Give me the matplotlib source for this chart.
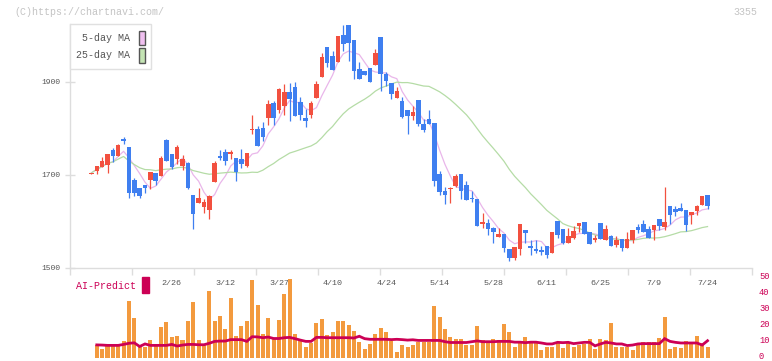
import matplotlib
matplotlib.use("Agg")
import matplotlib.pyplot as plt
from matplotlib.patches import Patch, Rectangle
from matplotlib.transforms import ScaledTranslation
import numpy as np
import pandas as pd

# daily OHLC (oldest first)
opens = [1702, 1709, 1717, 1721, 1753, 1740, 1777, 1760, 1689, 1671,
         1678, 1689, 1704, 1697, 1775, 1745, 1734, 1719, 1725, 1656,
         1639, 1630, 1624, 1684, 1740, 1749, 1745, 1736, 1734, 1719,
         1796, 1798, 1801, 1822, 1854, 1839, 1848, 1878, 1889, 1857,
         1822, 1829, 1865, 1911, 1975, 1956, 1943, 2001, 2023, 1990,
         1928, 1924, 1930, 1936, 1997, 1917, 1898, 1865, 1859, 1839,
         1826, 1861, 1809, 1820, 1811, 1702, 1665, 1669, 1676, 1702,
         1678, 1650, 1648, 1594, 1596, 1585, 1566, 1572, 1540, 1521,
         1540, 1581, 1546, 1540, 1538, 1546, 1531, 1600, 1583, 1553,
         1564, 1590, 1598, 1577, 1559, 1596, 1559, 1568, 1549, 1561,
         1542, 1559, 1587, 1594, 1583, 1581, 1605, 1587, 1633, 1626,
         1628, 1624, 1613, 1622, 1635, 1656]
highs = [1704, 1719, 1738, 1745, 1758, 1766, 1781, 1760, 1693, 1671,
         1678, 1706, 1704, 1740, 1777, 1745, 1764, 1742, 1727, 1656,
         1671, 1648, 1656, 1730, 1753, 1755, 1753, 1736, 1755, 1747,
         1829, 1805, 1814, 1861, 1859, 1887, 1896, 1898, 1900, 1867,
         1842, 1859, 1902, 1962, 1975, 1967, 1999, 2023, 2023, 1990,
         1943, 1924, 1930, 1971, 1997, 1921, 1898, 1889, 1867, 1839,
         1848, 1861, 1820, 1839, 1811, 1708, 1674, 1674, 1702, 1702,
         1686, 1665, 1648, 1618, 1605, 1587, 1585, 1572, 1540, 1544,
         1594, 1581, 1559, 1559, 1546, 1546, 1576, 1600, 1583, 1585,
         1590, 1596, 1598, 1577, 1570, 1596, 1592, 1570, 1568, 1561,
         1577, 1581, 1594, 1602, 1590, 1592, 1605, 1674, 1633, 1633,
         1639, 1624, 1620, 1635, 1654, 1656]
lows = [1702, 1702, 1717, 1704, 1727, 1740, 1766, 1650, 1654, 1650,
        1661, 1669, 1678, 1697, 1730, 1712, 1723, 1710, 1669, 1582,
        1639, 1617, 1605, 1684, 1732, 1721, 1734, 1686, 1715, 1717,
        1788, 1762, 1773, 1807, 1807, 1833, 1829, 1816, 1827, 1818,
        1803, 1822, 1865, 1911, 1932, 1926, 1943, 1967, 1945, 1906,
        1906, 1915, 1900, 1936, 1880, 1891, 1863, 1865, 1822, 1788,
        1818, 1805, 1792, 1809, 1676, 1656, 1637, 1639, 1674, 1648,
        1646, 1641, 1590, 1585, 1570, 1553, 1566, 1533, 1514, 1516,
        1527, 1553, 1527, 1531, 1527, 1520, 1531, 1564, 1551, 1553,
        1561, 1577, 1572, 1551, 1555, 1561, 1559, 1546, 1544, 1536,
        1542, 1553, 1574, 1577, 1564, 1559, 1581, 1581, 1594, 1611,
        1622, 1579, 1594, 1613, 1635, 1626]
closes = [1704, 1719, 1730, 1745, 1740, 1764, 1773, 1661, 1661, 1654,
          1671, 1706, 1686, 1736, 1730, 1717, 1760, 1734, 1671, 1616,
          1650, 1641, 1654, 1725, 1736, 1730, 1749, 1706, 1723, 1747,
          1798, 1762, 1781, 1852, 1822, 1885, 1878, 1863, 1827, 1829,
          1816, 1855, 1896, 1954, 1941, 1926, 1999, 1982, 1984, 1924,
          1906, 1915, 1900, 1962, 1917, 1902, 1874, 1880, 1824, 1826,
          1835, 1809, 1796, 1809, 1686, 1663, 1656, 1671, 1697, 1665,
          1646, 1648, 1590, 1598, 1583, 1577, 1572, 1542, 1521, 1544,
          1594, 1574, 1542, 1536, 1534, 1527, 1576, 1570, 1553, 1568,
          1579, 1596, 1572, 1551, 1564, 1561, 1583, 1546, 1559, 1542,
          1561, 1581, 1581, 1577, 1564, 1592, 1590, 1598, 1613, 1620,
          1622, 1592, 1620, 1633, 1654, 1633]

# date labels, one every 10 sessions starting at session 15
date_labels = ["2/26", "3/12", "3/27", "4/10", "4/24", "5/14",
               "5/28", "6/11", "6/25", "7/9", "7/24"]
first_label_session = 15
label_step = 10

# lower panel (right-hand 0-50 scale), from the 2nd session on
volume = [7.9, 5.4, 7.7, 8.6, 7.7, 10.6, 35.6, 24.8, 7.7, 6.9,
          11.3, 7.7, 19.2, 22.5, 12.9, 13.8, 11.3, 23.1, 34.8, 11.3,
          7.9, 41.9, 23.1, 26.3, 18.1, 37.5, 13.8, 19.8, 23.1, 48.8,
          33.1, 14.8, 25.0, 12.5, 23.8, 40.0, 49.4, 14.8, 11.3, 6.9,
          9.0, 21.9, 24.4, 14.2, 16.3, 23.1, 22.9, 20.4, 16.9, 10.0,
          5.6, 8.6, 14.8, 18.8, 16.3, 10.6, 3.8, 7.9, 6.9, 7.9,
          10.0, 10.0, 10.0, 32.3, 25.4, 17.9, 12.9, 11.5, 11.5, 7.9,
          7.9, 19.8, 11.2, 10.6, 11.5, 11.2, 21.0, 16.3, 6.9, 10.0,
          12.9, 10.0, 10.0, 4.8, 6.9, 6.9, 9.4, 6.3, 9.4, 6.9,
          7.9, 8.6, 11.5, 5.6, 11.5, 11.2, 21.9, 6.9, 6.9, 6.9,
          4.8, 9.4, 10.0, 10.0, 10.0, 12.5, 25.6, 5.6, 6.9, 6.3,
          10.6, 8.6, 13.8, 9.4, 6.9]
ai_predict = [8.0, 7.9, 7.7, 7.7, 7.7, 8.3, 9.0, 9.3, 7.0, 8.6,
              7.7, 7.7, 7.7, 7.7, 8.3, 7.3, 7.9, 8.3, 8.3, 8.1,
              8.1, 9.0, 10.2, 10.4, 10.4, 11.3, 11.3, 11.3, 10.2, 13.1,
              13.0, 12.5, 12.9, 12.0, 12.0, 12.5, 12.7, 11.9, 11.0, 10.2,
              10.2, 12.7, 12.7, 12.5, 12.5, 12.5, 12.5, 12.5, 12.3, 13.4,
              11.9, 11.5, 11.5, 11.5, 11.5, 11.3, 11.5, 11.3, 11.0, 11.2,
              10.8, 10.8, 10.8, 10.8, 10.8, 10.0, 9.5, 9.5, 9.5, 9.5,
              10.0, 10.5, 10.0, 10.0, 10.0, 10.2, 10.2, 10.2, 9.7, 9.7,
              9.4, 9.7, 9.7, 9.2, 8.6, 8.6, 9.6, 9.4, 9.6, 8.8,
              9.2, 9.6, 9.6, 7.4, 8.6, 9.6, 9.2, 8.6, 8.6, 7.6,
              7.9, 8.6, 8.8, 8.8, 8.8, 8.8, 11.9, 10.2, 9.6, 9.2,
              9.2, 9.2, 9.2, 7.9, 10.6]

price_ticks = [1500, 1700, 1900]
panel_ticks = [0, 10, 20, 30, 40, 50]

UP = "#f2503f"
DOWN = "#3f7ff0"
MA5_COLOR = "#e9b6ea"
MA25_COLOR = "#b5dca6"
VOL_COLOR = "#f39a3e"
AI_COLOR = "#cc0055"
AXIS_GRAY = "#dddddd"
TEXT_GRAY = "#555555"

W, H = 772, 361


def px_rect(left, top, right, bottom):
    """Figure-fraction rect from pixel edges (origin top-left)."""
    return [left / W, 1 - bottom / H, (right - left) / W, (bottom - top) / H]


plt.rcParams["font.family"] = ["Liberation Mono", "DejaVu Sans Mono"]

fig = plt.figure(figsize=(W / 100, H / 100), dpi=100)
ax = fig.add_axes(px_rect(70, 10, 752, 267.5))
vax = fig.add_axes(px_rect(70, 277.7, 752, 357.7))
vax.patch.set_visible(False)

x_min, x_max = -4.0, 123.3
y_min, y_max = 1500, 2055

# candles
o = np.asarray(opens, dtype=float)
c = np.asarray(closes, dtype=float)
idx = np.arange(len(c))
colors = np.where(c >= o, UP, DOWN)
ax.vlines(idx, lows, highs, colors=colors, linewidth=0.9, zorder=3)
ax.bar(idx, np.maximum(np.abs(c - o), 2.0), bottom=np.minimum(o, c),
       width=0.85, color=colors, linewidth=0, zorder=3)

close_s = pd.Series(c)
ax.plot(idx, close_s.rolling(5, min_periods=1).mean(), color=MA5_COLOR, lw=0.9, zorder=2)
ax.plot(idx, close_s.rolling(25, min_periods=1).mean(), color=MA25_COLOR, lw=0.9, zorder=2)

ax.set_xlim(x_min, x_max)
ax.set_ylim(y_min, y_max)
for side in ("top", "right"):
    ax.spines[side].set_visible(False)
for side in ("left", "bottom"):
    ax.spines[side].set_color(AXIS_GRAY)
    ax.spines[side].set_linewidth(1.0)
# left rule stops where the legend box starts
ax.spines["left"].set_bounds(y_min, y_max - (y_max - y_min) * 14 / 257.5)

ax.set_yticks(price_ticks)
ax.set_yticklabels([str(t) for t in price_ticks])
ax.tick_params(axis="y", direction="inout", length=6.5, width=1.0, color=AXIS_GRAY,
               labelsize=5.8, labelcolor=TEXT_GRAY, pad=4)

ax.set_xticks(np.linspace(x_min, x_max, 12))
ax.set_xticklabels([])
ax.tick_params(axis="x", which="major", direction="out", length=5, width=1.0, color=AXIS_GRAY)
label_pos = first_label_session + label_step * np.arange(len(date_labels))
ax.set_xticks(label_pos, minor=True)
ax.set_xticklabels(date_labels, minor=True)
ax.tick_params(axis="x", which="minor", length=0, pad=9, labelsize=6, labelcolor=TEXT_GRAY)

handles = [Patch(facecolor="#f0c0f0", edgecolor=TEXT_GRAY, label="5-day MA"),
           Patch(facecolor="#c4e4b4", edgecolor=TEXT_GRAY, label="25-day MA")]
leg = ax.legend(handles=handles, loc="upper left", bbox_to_anchor=(0, 1 - 14 / 257.5),
                borderaxespad=0, markerfirst=False, frameon=True, fancybox=False,
                edgecolor="#e0e0e0", framealpha=1, fontsize=7.2, handlelength=0.6,
                handleheight=1.9, handletextpad=0.8, labelspacing=0.25, borderpad=0.65,
                labelcolor=TEXT_GRAY)
leg.get_frame().set_linewidth(1.0)

# lower panel
vidx = np.arange(1, len(volume) + 1)
vax.bar(vidx, volume, width=0.75, color=VOL_COLOR, linewidth=0)
vax.plot(vidx, ai_predict, color=AI_COLOR, lw=2.0, solid_joinstyle="miter")
vax.set_xlim(x_min, x_max)
vax.set_ylim(0, 50)
for side in vax.spines.values():
    side.set_visible(False)
vax.set_xticks([])
vax.yaxis.tick_right()
vax.set_yticks(panel_ticks)
vax.tick_params(axis="y", length=0, pad=5, labelsize=6.3, labelcolor=AI_COLOR)
lift = ScaledTranslation(0, 2 / 100, fig.dpi_scale_trans)
for lbl in vax.get_yticklabels():
    lbl.set_transform(lbl.get_transform() + lift)

fig.text(76 / W, 1 - 286 / H, "AI-Predict", color=AI_COLOR, fontsize=7.2, va="center")
fig.patches.append(Rectangle((142 / W, 1 - 293 / H), 7 / W, 16 / H,
                             transform=fig.transFigure, color=AI_COLOR))

fig.text(14 / W, 1 - 12 / H, "(C)https://chartnavi.com/", color="#c4c4c4",
         fontsize=7.2, va="center")
fig.text(757 / W, 1 - 12 / H, "3355", color="#c4c4c4", fontsize=7.2,
         va="center", ha="right")

fig.savefig("out.png", dpi=100)
